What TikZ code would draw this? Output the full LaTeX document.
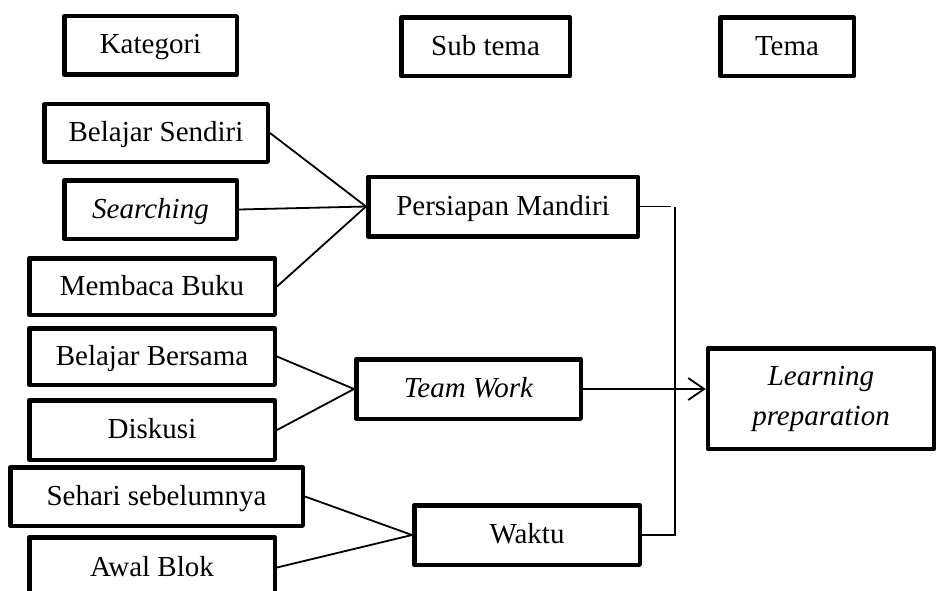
\documentclass[tikz,border=0pt]{standalone}
\usepackage{fontspec}
\setmainfont{Liberation Serif}
\usetikzlibrary{arrows.meta}
\begin{document}
\begin{tikzpicture}[x=1pt,y=-1pt,
  box/.style={draw, line width=4.5pt, line join=round, inner sep=0pt, fill=white,
    font=\fontsize{29}{40}\selectfont, align=center},
  one/.style={box, text height=21pt, text depth=4pt},
  conn/.style={draw, line width=1.8pt},
  arr/.style={conn, -{Straight Barb[length=16pt,width=22pt,line width=1.8pt]}}]
\useasboundingbox (0,0) rectangle (936,591);
\clip (0,0) rectangle (936,591);
% header boxes
\node[one, minimum width=172.5pt, minimum height=58.5pt] (kat) at (150.5,45.5) {Kategori};
\node[one, minimum width=168.5pt, minimum height=58.5pt] (sub) at (485.5,47) {Sub tema};
\node[one, minimum width=133.5pt, minimum height=58.5pt] (tema) at (787,47) {Tema};
% categories
\node[one, minimum width=223.5pt, minimum height=57.5pt] (bs) at (156,133) {Belajar Sendiri};
\node[one, minimum width=172.5pt, minimum height=58.5pt] (sea) at (150.5,209.5) {\itshape Searching};
\node[one, minimum width=245.5pt, minimum height=56.5pt] (mb) at (152,286.5) {Membaca Buku};
\node[one, minimum width=245.5pt, minimum height=56.5pt] (bb) at (152,356.5) {Belajar Bersama};
\node[one, minimum width=245.5pt, minimum height=59.5pt] (dis) at (152,430) {Diskusi};
\node[one, minimum width=292.5pt, minimum height=58.5pt] (seh) at (156.5,496.5) {Sehari sebelumnya};
\node[one, minimum width=245.5pt, minimum height=60.5pt] (awal) at (152,567.5) {Awal Blok};
% sub themes
\node[one, minimum width=269.5pt, minimum height=59.5pt] (pm) at (503,206.5) {Persiapan Mandiri};
\node[one, minimum width=224.5pt, minimum height=59.5pt] (tw) at (468.5,389) {\itshape Team Work};
\node[one, minimum width=225.5pt, minimum height=59.5pt] (wak) at (527,535) {Waktu};
% theme
\node[box, minimum width=226pt, minimum height=100.5pt] (lp) at (821,398.5) {\itshape Learning\\\itshape preparation};
% connectors
\draw[conn] (bs.east) -- (pm.west);
\draw[conn] (sea.east) -- (pm.west);
\draw[conn] (mb.east) -- (pm.west);
\draw[conn] (bb.east) -- (tw.west);
\draw[conn] (dis.east) -- (tw.west);
\draw[conn] (seh.east) -- (wak.west);
\draw[conn] (awal.east) -- (wak.west);
\draw[conn] (pm.east) -- ++(31,0);
\draw[conn] (wak.east) -| ([xshift=35pt]pm.east);
\draw[arr] (tw.east) -- (tw.east -| lp.west);
\end{tikzpicture}
\end{document}
